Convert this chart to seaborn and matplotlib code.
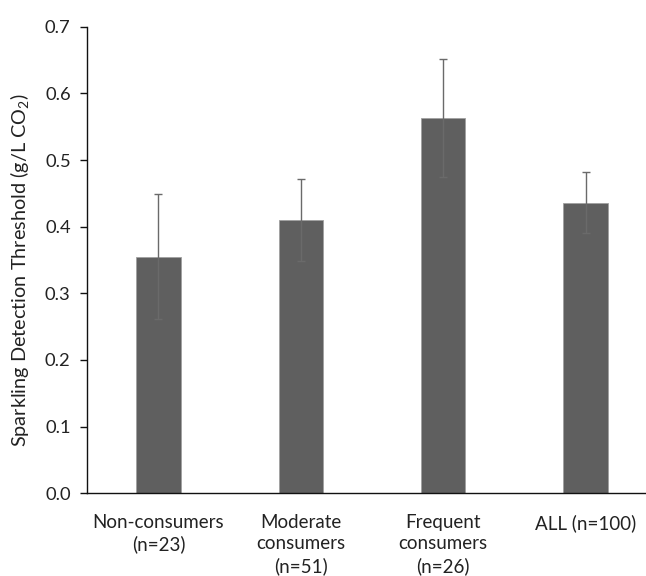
import matplotlib
matplotlib.use("Agg")
import matplotlib.pyplot as plt
import seaborn as sns
import pandas as pd
import numpy as np

categories = ["Non-consumers\n(n=23)", "Moderate\nconsumers\n(n=51)", "Frequent\nconsumers\n(n=26)", "ALL (n=100)"]
values = [0.355, 0.410, 0.563, 0.436]
errors = [0.094, 0.062, 0.088, 0.046]
yticks = [0.0, 0.1, 0.2, 0.3, 0.4, 0.5, 0.6, 0.7]

sns.set_theme(style="white")
plt.rcParams['font.family'] = ['Lato', 'DejaVu Sans']

df = pd.DataFrame({"group": categories, "threshold": values})

fig = plt.figure(figsize=(6.46, 5.76), dpi=100)
ax = fig.add_axes([87.3/646, 1-493.3/576, (656.7-87.3)/646, (493.3-26.7)/576])

sns.barplot(data=df, x="group", y="threshold", color="#5f5f5f", saturation=1,
            width=0.31, edgecolor="#a0a0a0", linewidth=0.6, errorbar=None, ax=ax)
ax.errorbar(np.arange(len(values)), values, yerr=errors, fmt="none",
            ecolor="#6a6a6a", elinewidth=1.0, capsize=3, capthick=1.0, zorder=5)

ax.set_xlim(-0.5, 3.5)
ax.set_ylim(0, 0.7)
ax.set_yticks(yticks)
ax.set_yticklabels([f"{t:.1f}" for t in yticks])
ax.set_xlabel("")
ax.set_ylabel("Sparkling Detection Threshold (g/L CO$_\\mathregular{2}$)", fontsize=14.3, color="#222222")
ax.yaxis.set_label_coords(-0.097, 0.478)

for side in ["top", "right"]:
    ax.spines[side].set_visible(False)
for side in ["left", "bottom"]:
    ax.spines[side].set_color("#111111")
    ax.spines[side].set_linewidth(1.0)

ax.tick_params(axis="y", which="both", left=True, length=5, width=1.0, color="#111111",
               labelsize=13.2, pad=7, labelcolor="#222222")
ax.tick_params(axis="x", which="both", bottom=False, labelsize=13.5, pad=9, labelcolor="#222222")
for lbl in ax.get_xticklabels():
    lbl.set_linespacing(1.3)

fig.savefig("out.png", dpi=100)
